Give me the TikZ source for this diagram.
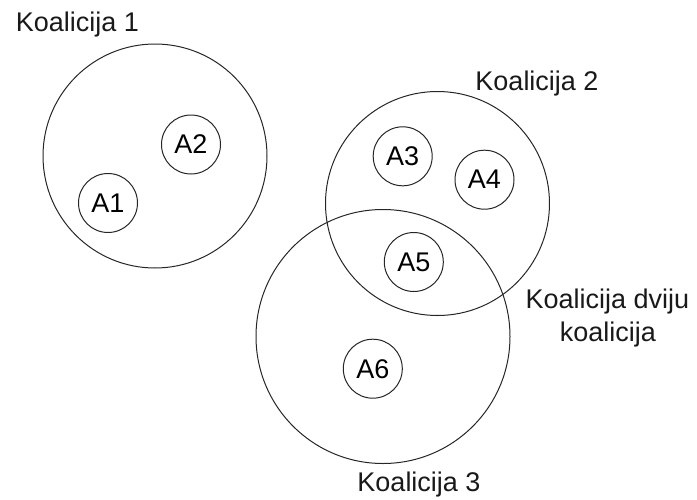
\documentclass[tikz,border=0pt]{standalone}
\usepackage{fontspec}
\setmainfont{Liberation Sans}
\begin{document}
\begin{tikzpicture}[x=1pt,y=-1pt,
  coal/.style={draw=black!85,line width=1pt,circle,inner sep=0pt},
  agent/.style={draw=black!85,line width=1pt,circle,inner sep=0pt,minimum size=59pt,font=\fontsize{27}{31}\selectfont},
  lbl/.style={anchor=base,inner sep=0pt,font=\fontsize{27}{31}\selectfont,text=black!90}]
\useasboundingbox (0,0) rectangle (697,499);
\node[coal,minimum size=224pt] (k1) at (155,156) {};
\node[coal,minimum size=224pt] (k2) at (437.5,203.5) {};
\node[coal,minimum size=254pt] (k3) at (383,336.5) {};
\node[agent] (a1) at (108,203) {A1};
\node[agent] (a2) at (191,144.5) {A2};
\node[agent] (a3) at (402.7,156.3) {A3};
\node[agent] (a4) at (484.5,179.7) {A4};
\node[agent] (a5) at (413.8,262) {A5};
\node[agent] (a6) at (372.8,368.7) {A6};
\node[lbl] (l1) at (77.5,31.7) {Koalicija 1};
\node[lbl] (l2) at (537,90) {Koalicija 2};
\node[lbl] (l3) at (419,491.7) {Koalicija 3};
\node[lbl] (l4a) at (607.5,308.3) {Koalicija dviju};
\node[lbl] (l4b) at (607.8,341) {koalicija};
\end{tikzpicture}
\end{document}
